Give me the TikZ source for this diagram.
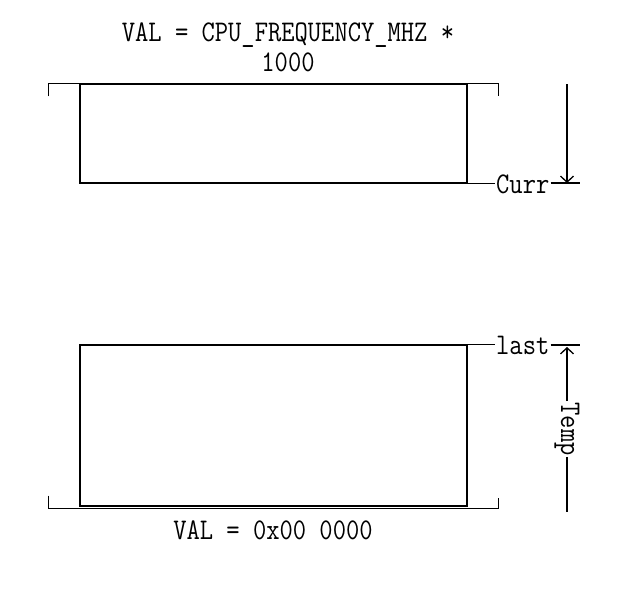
\documentclass[tikz,border=0pt]{standalone}
\usepackage{fontspec}
\usetikzlibrary{arrows.meta,positioning,calc}
\newfontfamily\codefont{Latin Modern Mono}[FakeStretch=0.86]

\begin{document}
\begin{tikzpicture}[
    x=1pt, y=-1pt,
    >={Straight Barb[length=6pt,width=13pt]},
    membox/.style={rectangle, draw, line width=1.3pt, minimum width=387pt, minimum height=99pt, inner sep=0pt},
    code/.style={font=\codefont\fontsize{30pt}{32pt}\selectfont, inner sep=1pt, align=center},
    line/.style={line width=1.3pt},
]
\useasboundingbox (0,0) rectangle (637,589);

% upper region
\node[membox] (curbox) at (273.5,133.5) {};
\node[code] (curval) at (288,47) {VAL = CPU\_FREQUENCY\_MHZ *\\[-2pt]1000};
\node[code, anchor=west] (curr) at (495,184) {Curr};
\coordinate (currend) at (580,183);
\coordinate (currtop) at (567,84);
\coordinate (currbot) at (567,183);
\draw[line] (curbox.south east) -- (curbox.south east -| curr.west);
\draw[line] (currbot -| curr.east) -- (currend);
\draw[line, ->] (currtop) -- (currbot);
\draw[line] ($(curbox.north west)+(-31,13)$) |- ($(curbox.north east)+(31,0)$) -- ++(0,13);

% lower region
\node[membox, minimum height=161pt] (lastbox) at (273.5,425.5) {};
\node[code] (zeroval) at (273,530) {VAL = 0x00 0000};
\node[code, anchor=west] (last) at (495,345) {last};
\coordinate (lastend) at (580,345);
\coordinate (temptop) at (567,347);
\coordinate (tempbot) at (567,512);
\node[code, rotate=-90] (temp) at (567,429) {Temp};
\draw[line] (lastbox.north east) -- (lastbox.north east -| last.west);
\draw[line] (lastend -| last.east) -- (lastend);
\draw[line, ->] (temp.west) -- (temptop);
\draw[line] (temp.east) -- (tempbot);
\draw[line] ($(lastbox.south west)+(-31,-11)$) |- ($(lastbox.south east)+(31,2)$) -- ++(0,-11);
\end{tikzpicture}
\end{document}
